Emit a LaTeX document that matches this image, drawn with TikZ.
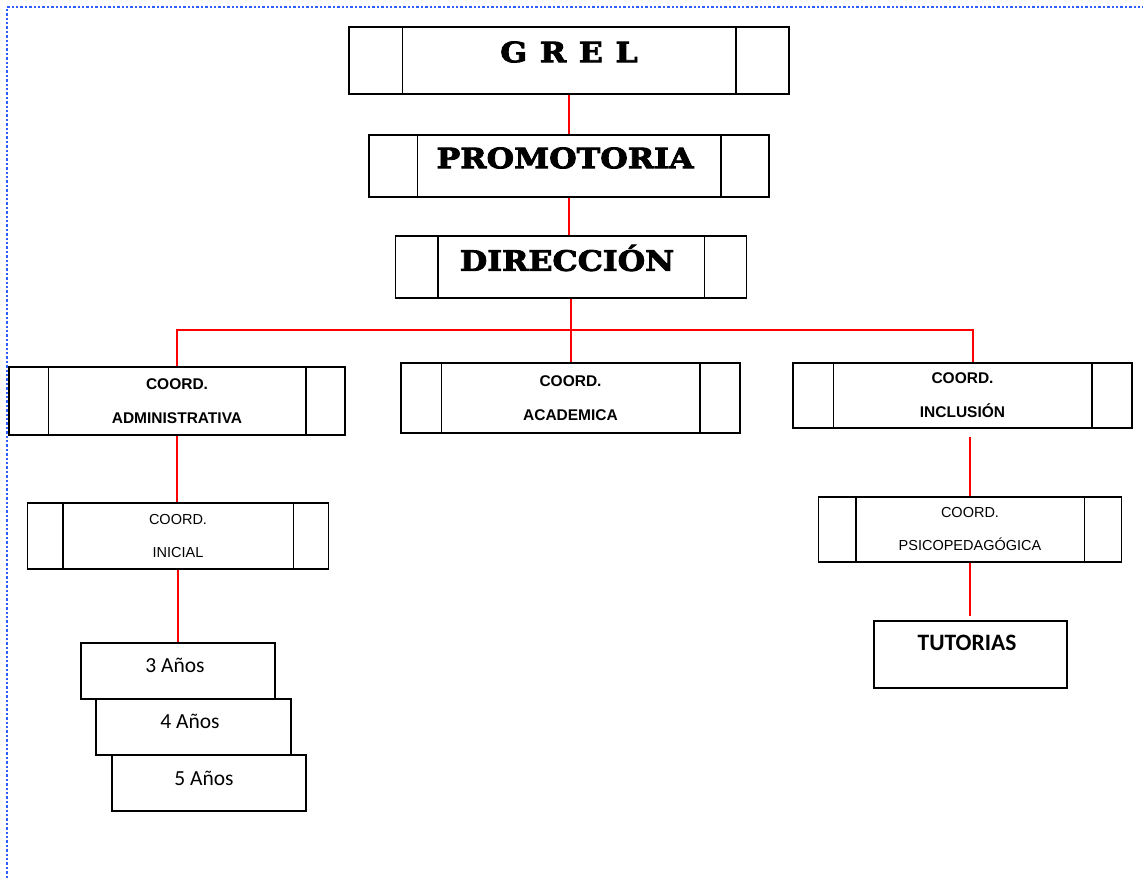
\documentclass[tikz,border=0pt]{standalone}
\usepackage{fontspec}
\setmainfont{Liberation Sans}
\newfontfamily\titulofont[FakeStretch=1.13, BoldFeatures={FakeBold=3}]{DejaVu Serif}
\newfontfamily\calfont{Carlito}
\definecolor{azulborde}{RGB}{45,95,255}
\begin{document}
\begin{tikzpicture}[x=1pt,y=-1pt,
    caja/.style={draw, line width=1.5pt, rectangle, inner sep=0pt},
    linea/.style={draw=red, line width=2.4pt},
    titulo/.style={font=\titulofont\bfseries\fontsize{28}{30}\selectfont},
    coord/.style={align=center, font=\bfseries\fontsize{15.5}{34}\selectfont},
    coordfina/.style={align=center, font=\fontsize{14.5}{33}\selectfont},
    anios/.style={font=\calfont\fontsize{21.5}{23}\selectfont}]
    \useasboundingbox (0,0) rectangle (1143,878);

    % Borde punteado
    \draw[azulborde, dotted, line width=2.4pt] (7,878) -- (7,7) -- (1143,7);

    % Cajas principales
    \node[caja, minimum width=440pt, minimum height=67pt] (grel) at (569,60.5) {};
    \node[titulo] (grelt) at (569,52) {G\hspace{0.45em}R\hspace{0.45em}E\hspace{0.45em}L};
    \node[caja, minimum width=400pt, minimum height=62pt] (promo) at (569,166) {};
    \node[titulo] (promot) at (565,158) {PROMOTORIA};
    \node[caja, minimum width=351pt, minimum height=62pt] (dir) at (571,267) {};
    \node[titulo] (dirt) at (567,258) {DIRECCIÓN};

    % Coordinaciones
    \node[caja, coord, minimum width=336pt, minimum height=68pt] (admin) at (177,401) {COORD.\\ADMINISTRATIVA};
    \node[caja, coord, minimum width=339pt, minimum height=70pt] (acad) at (570.5,398) {COORD.\\ACADEMICA};
    \node[caja, coord, minimum width=339pt, minimum height=65pt] (incl) at (962.5,395.5) {COORD.\\INCLUSIÓN};
    \node[caja, coordfina, minimum width=301pt, minimum height=66pt] (inicial) at (178,536) {COORD.\\INICIAL};
    \node[caja, coordfina, minimum width=303pt, minimum height=65pt] (psico) at (970,529.5) {COORD.\\PSICOPEDAGÓGICA};

    % Barras laterales de las cajas
    \foreach \n/\d in {grel/54, promo/49, dir/43, admin/40, acad/41, incl/41, inicial/36, psico/38}{
        \draw[line width=1.5pt] ([xshift=\d pt]\n.north west) -- ([xshift=\d pt]\n.south west);
        \draw[line width=1.5pt] ([xshift=-\d pt]\n.north east) -- ([xshift=-\d pt]\n.south east);
    }

    % Grupos de edad
    \node[caja, minimum width=194pt, minimum height=56pt] (a3) at (178,671) {};
    \node[anios] (a3t) at (175,665) {3 Años};
    \node[caja, minimum width=195pt, minimum height=56pt] (a4) at (193.5,727) {};
    \node[anios] (a4t) at (190,721) {4 Años};
    \node[caja, minimum width=194pt, minimum height=56pt] (a5) at (209,783) {};
    \node[anios] (a5t) at (204,778) {5 Años};

    % Tutorias
    \node[caja, minimum width=193pt, minimum height=67pt] (tut) at (970.5,654.5) {};
    \node[font=\calfont\bfseries\fontsize{23.5}{25}\selectfont] (tutt) at (967,643) {TUTORIAS};

    % Conexiones
    \coordinate (bus) at (570,330);
    \coordinate (busder) at (973,330);
    \draw[linea] (grel.south) -- (grel.south |- promo.north);
    \draw[linea] (promo.south) -- (promo.south |- dir.north);
    \draw[linea] (dir.south) -- (dir.south |- acad.north);
    \draw[linea] (admin.north) |- (busder) -- (busder |- incl.north);
    \draw[linea] (admin.south) -- (admin.south |- inicial.north);
    \draw[linea] (inicial.south) -- (inicial.south |- a3.north);
    \draw[linea] ([yshift=-8pt]incl.south -| psico.north) -- (psico.north);
    \draw[linea] (psico.south) -- ([yshift=4pt]psico.south |- tut.north);
\end{tikzpicture}
\end{document}
